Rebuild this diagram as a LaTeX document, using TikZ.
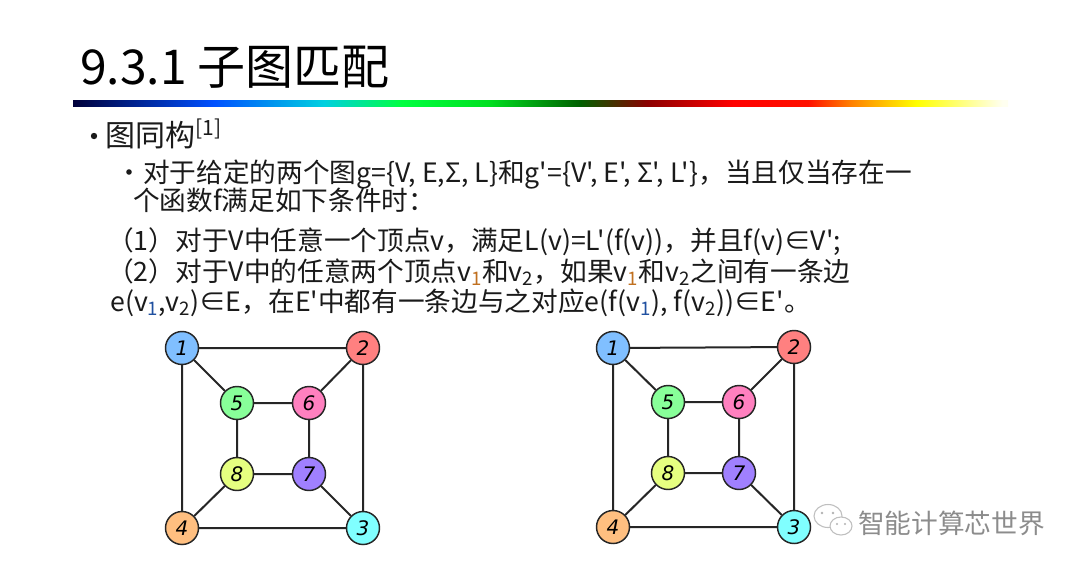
\documentclass[tikz,border=0pt]{standalone}
\usepackage{fontspec}
\setmainfont{Noto Sans CJK SC}[Ligatures=TeXOff]
\newfontfamily\numfont{DejaVu Sans}
\definecolor{barA}{HTML}{00003A}
\definecolor{barB}{HTML}{0050FF}
\definecolor{barC}{HTML}{00D0E0}
\definecolor{barD}{HTML}{00FF40}
\definecolor{barE}{HTML}{00E020}
\definecolor{barF}{HTML}{006000}
\definecolor{barG}{HTML}{8B0000}
\definecolor{barH}{HTML}{FF0000}
\definecolor{barI}{HTML}{FF1000}
\definecolor{barJ}{HTML}{FF8000}
\definecolor{barK}{HTML}{FFFF00}
\definecolor{barL}{HTML}{FFFFF0}
\pgfdeclarehorizontalshading{rainbowbar}{100bp}{
  color(0bp)=(barA); color(25bp)=(barA);
  color(32.5bp)=(barB); color(38.4bp)=(barC); color(42.6bp)=(barD);
  color(47.2bp)=(barE); color(52.1bp)=(barF); color(55.7bp)=(barG);
  color(60.3bp)=(barH); color(64.3bp)=(barI); color(66.6bp)=(barJ);
  color(70.1bp)=(barK); color(74.7bp)=(barL); color(100bp)=(barL)}
\definecolor{cA}{HTML}{80BFFF}
\definecolor{cB}{HTML}{FF8080}
\definecolor{cC}{HTML}{80FFFF}
\definecolor{cD}{HTML}{FFBF80}
\definecolor{cE}{HTML}{88FF99}
\definecolor{cF}{HTML}{FF80BF}
\definecolor{cG}{HTML}{A080FF}
\definecolor{cH}{HTML}{E6FF80}
\definecolor{txt}{HTML}{1A1A1A}
\definecolor{subo}{HTML}{C07020}
\definecolor{subb}{HTML}{2050A0}
\definecolor{wm}{HTML}{8C8C8C}
\newcommand{\subn}[1]{\textsubscript{#1}}
\newcommand{\subc}[2]{\textsubscript{\textcolor{#1}{#2}}}
\begin{document}
\begin{tikzpicture}[x=0.75pt,y=-0.75pt,
  vtx/.style={circle, draw=black!85, line width=1.1pt, minimum size=24.75pt, inner sep=0pt,
    font=\numfont\itshape\fontsize{15}{15}\selectfont},
  gedge/.style={line width=1.5pt, draw=black!85},
  bodytext/.style={anchor=base west, inner sep=0pt, text=txt, font=\fontsize{20}{24}\selectfont},
  wmtext/.style={anchor=base west, inner sep=0pt, text=wm, font=\fontsize{20}{24}\selectfont}]
\useasboundingbox (0,0) rectangle (1080,572);
\fill[white] (0,0) rectangle (1080,572);
% title
\node[anchor=base west, inner sep=0pt, font=\fontsize{36}{40}\selectfont] (title) at (80,84) {9.3.1 子图匹配};
\shade[shading=rainbowbar] (73,100) rectangle (1008,106);
% bullets and text
\fill[txt] (94,136) circle (3.2);
\node[anchor=base west, inner sep=0pt, text=txt, font=\fontsize{22.5}{26}\selectfont] (h1) at (105,146) {图同构\textsuperscript{[1]}};
\fill[txt] (129,172) circle (2.8);
\node[bodytext] (b1) at (143,182) {对于给定的两个图g=\{V, E,Σ, L\}和g'=\{V', E', Σ', L'\}，当且仅当存在一};
\node[bodytext] (b2) at (133,210) {个函数f满足如下条件时：};
\node[bodytext] (c1) at (107,250) {（1）对于V中任意一个顶点v，满足L(v)=L'(f(v))，并且f(v)∈V';};
\node[bodytext] (c2) at (107,281) {（2）对于V中的任意两个顶点v\subc{subo}{1}和v\subn{2}，如果v\subc{subo}{1}和v\subn{2}之间有一条边};
\node[bodytext] (c3) at (110,311) {e(v\subc{subb}{1},v\subn{2})∈E，在E'中都有一条边与之对应e(f(v\subc{subb}{1}), f(v\subn{2}))∈E'。};
% watermark icon
\draw[draw=black!25, line width=0.8pt, fill=white] (828,516) ellipse (14 and 11.5);
\draw[draw=black!25, line width=0.8pt, fill=white] (841,526) ellipse (11 and 9);
\fill[black!30] (822,513) circle (1.4) (833,513) circle (1.4) (837,524) circle (1.1) (845,524) circle (1.1);
\node[wmtext] (wmt) at (858,533) {智能计算芯世界};
% left graph
\node[vtx, fill=cA] (L1) at (182,348) {1};
\node[vtx, fill=cB] (L2) at (363,348) {2};
\node[vtx, fill=cE] (L5) at (237,403) {5};
\node[vtx, fill=cF] (L6) at (309,403) {6};
\node[vtx, fill=cH] (L8) at (237,474) {8};
\node[vtx, fill=cG] (L7) at (309,474) {7};
\node[vtx, fill=cD] (L4) at (182,528) {4};
\node[vtx, fill=cC] (L3) at (363,528) {3};
\draw[gedge] (L1)--(L2) (L1)--(L4) (L2)--(L3) (L4)--(L3)
  (L1)--(L5) (L2)--(L6) (L4)--(L8) (L3)--(L7)
  (L5)--(L6) (L5)--(L8) (L6)--(L7) (L8)--(L7);
% right graph
\node[vtx, fill=cA] (R1) at (613,348) {1};
\node[vtx, fill=cB] (R2) at (794,347) {2};
\node[vtx, fill=cE] (R5) at (668,402) {5};
\node[vtx, fill=cF] (R6) at (739,402) {6};
\node[vtx, fill=cH] (R8) at (668,473) {8};
\node[vtx, fill=cG] (R7) at (739,473) {7};
\node[vtx, fill=cD] (R4) at (613,527) {4};
\node[vtx, fill=cC] (R3) at (794,527) {3};
\draw[gedge] (R1)--(R2) (R1)--(R4) (R2)--(R3) (R4)--(R3)
  (R1)--(R5) (R2)--(R6) (R4)--(R8) (R3)--(R7)
  (R5)--(R6) (R5)--(R8) (R6)--(R7) (R8)--(R7);
\end{tikzpicture}
\end{document}
